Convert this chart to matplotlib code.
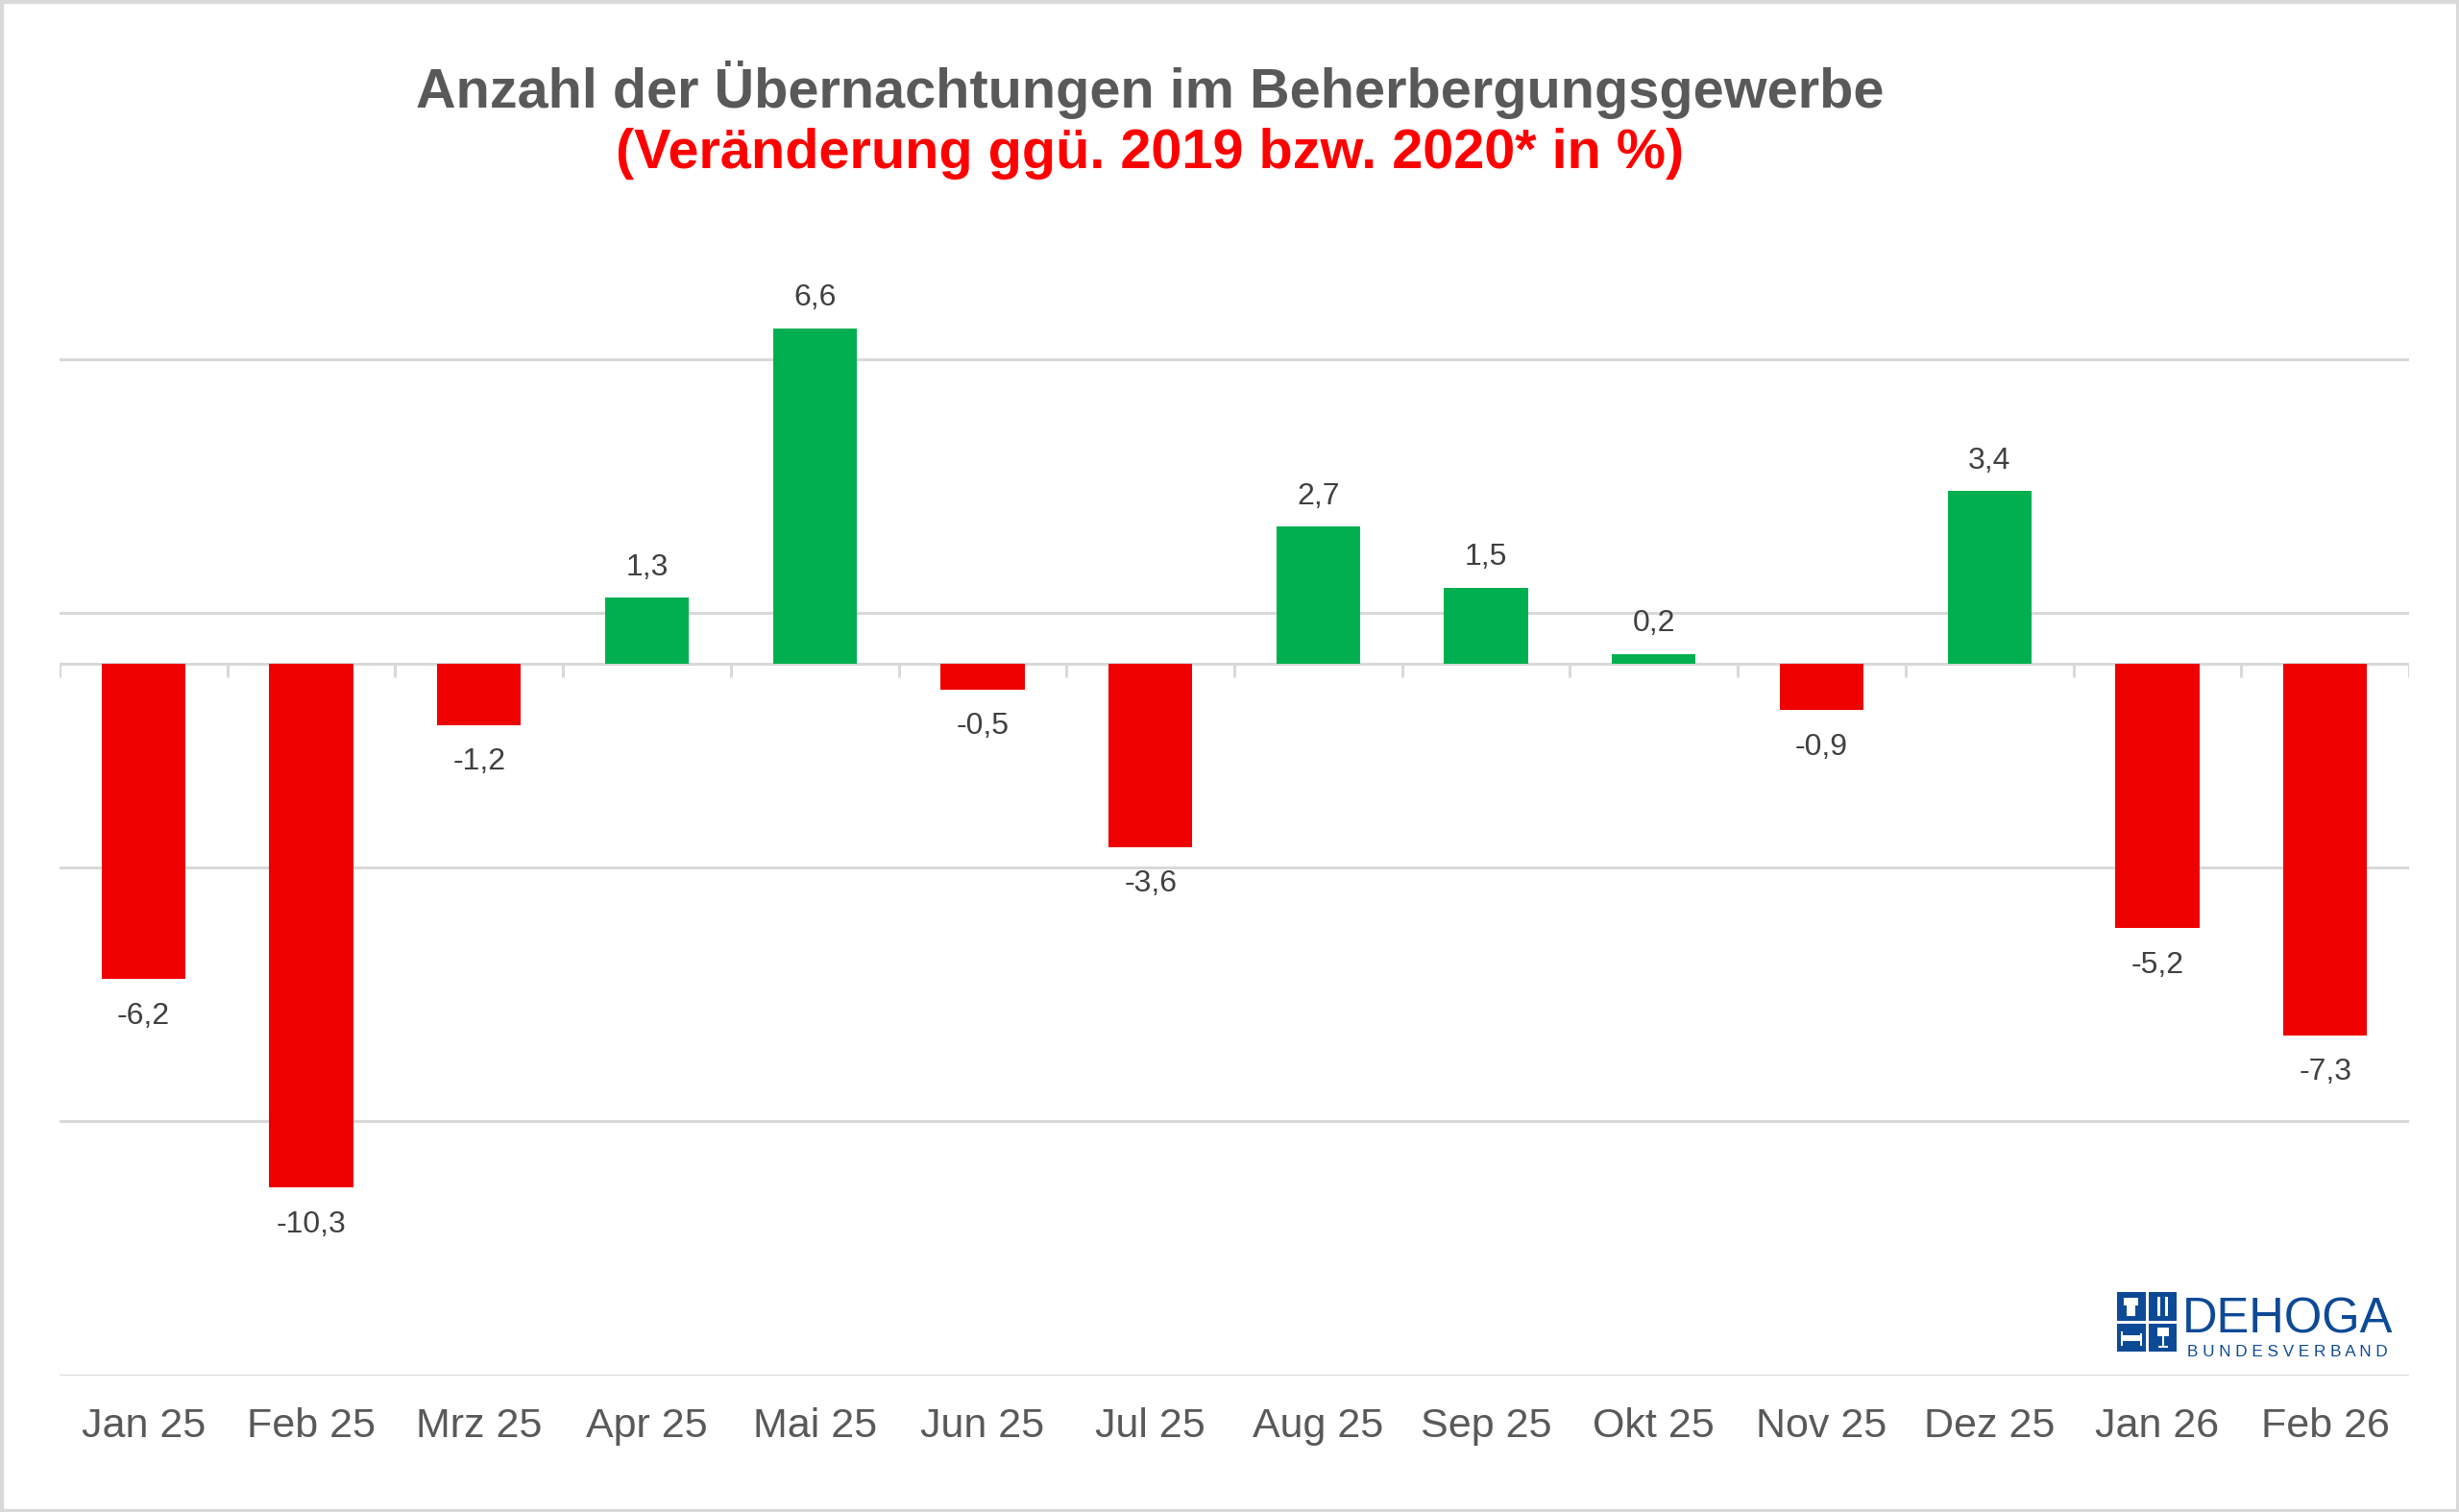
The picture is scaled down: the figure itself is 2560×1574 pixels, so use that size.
import matplotlib
matplotlib.use("Agg")
import matplotlib.pyplot as plt
from matplotlib.patches import Rectangle

plt.rcParams['font.family'] = ['Liberation Sans', 'DejaVu Sans']

categories = ["Jan 25", "Feb 25", "Mrz 25", "Apr 25", "Mai 25", "Jun 25", "Jul 25",
              "Aug 25", "Sep 25", "Okt 25", "Nov 25", "Dez 25", "Jan 26", "Feb 26"]
values = [-6.2, -10.3, -1.2, 1.3, 6.6, -0.5, -3.6, 2.7, 1.5, 0.2, -0.9, 3.4, -5.2, -7.3]
gridlines = [-14, -9, -4, 1, 6]

title = "Anzahl der Übernachtungen im Beherbergungsgewerbe"
subtitle = "(Veränderung ggü. 2019 bzw. 2020* in %)"

RED = "#EE0000"
GREEN = "#00B050"
GRID = "#D9D9D9"

W, H = 2560, 1574
fig = plt.figure(figsize=(W / 100, H / 100), dpi=100)
fig.patch.set_facecolor("white")

ax = fig.add_axes([62 / W, 1 - 1432 / H, (2508 - 62) / W, (1432 - 268) / H])
ax.set_xlim(-0.5, len(categories) - 0.5)
ax.set_ylim(-14, 8)

for g in gridlines:
    ax.axhline(g, color=GRID, lw=2.2, zorder=0)
ax.axhline(0, color=GRID, lw=2.2, zorder=1)
x = list(range(len(categories)))
ax.vlines([i - 0.5 for i in range(len(categories) + 1)], -0.25, 0, color=GRID, lw=2.2, zorder=1)

colors = [GREEN if v >= 0 else RED for v in values]
ax.bar(x, values, width=0.5, color=colors, zorder=2)

for xi, v in zip(x, values):
    lbl = f"{v:.1f}".replace(".", ",")
    if v >= 0:
        ax.annotate(lbl, (xi, v), xytext=(0, 12), textcoords="offset points",
                    ha="center", va="bottom", fontsize=23, color="#404040")
    else:
        ax.annotate(lbl, (xi, v), xytext=(0, -17), textcoords="offset points",
                    ha="center", va="top", fontsize=23, color="#404040")

ax.set_xticks(x)
ax.set_xticklabels(categories, fontsize=31, color="#595959")
ax.tick_params(axis="x", length=0, pad=24)
ax.set_yticks([])
for s in ax.spines.values():
    s.set_visible(False)

# Titles
fig.text(1197 / W, 1 - 93 / H, title, ha="center", va="center", fontsize=41.5,
         fontweight="bold", color="#595959")
fig.text(1197 / W, 1 - 160 / H, subtitle, ha="center", va="center", fontsize=41.5,
         fontweight="bold", color="#FF0000")

# Frame
fig.patches.append(Rectangle((1.5 / W, 1.5 / H), 1 - 3 / W, 1 - 3 / H, transform=fig.transFigure,
                             fill=False, edgecolor="#D9D9D9", lw=3))

# Logo
BLUE = "#0D4A96"
lx0, ly0, s = 2204, 1345, 62
gap = 3
half = (s - gap) / 2
for (cx, cy) in [(0, 0), (1, 0), (0, 1), (1, 1)]:
    px = lx0 + cx * (half + gap)
    py = ly0 + cy * (half + gap)
    fig.patches.append(Rectangle((px / W, 1 - (py + half) / H), half / W, half / H,
                                 transform=fig.transFigure, facecolor=BLUE, edgecolor="none"))

def wrect(x0, y0, w, h):
    fig.patches.append(Rectangle((x0 / W, 1 - (y0 + h) / H), w / W, h / H,
                                 transform=fig.transFigure, facecolor="white", edgecolor="none"))

# chef hat
wrect(lx0 + 7, ly0 + 6, 15, 8)
wrect(lx0 + 10, ly0 + 14, 9, 11)
# fork & knife
wrect(lx0 + half + gap + 9, ly0 + 5, 3, 20)
wrect(lx0 + half + gap + 17, ly0 + 5, 3, 20)
# bed
wrect(lx0 + 5, ly0 + half + gap + 12, 20, 6)
wrect(lx0 + 4, ly0 + half + gap + 8, 2, 15)
wrect(lx0 + 24, ly0 + half + gap + 10, 2, 13)
# glass
wrect(lx0 + half + gap + 9, ly0 + half + gap + 4, 12, 9)
wrect(lx0 + half + gap + 14, ly0 + half + gap + 13, 2, 10)
wrect(lx0 + half + gap + 10, ly0 + half + gap + 23, 10, 2)

fig.text(2272 / W, 1 - 1388 / H, "DEHOGA", ha="left", va="baseline", fontsize=36.5,
         color=BLUE)
fig.text(2277 / W, 1 - 1412 / H, " ".join("BUNDESVERBAND"), ha="left", va="baseline",
         fontsize=12.3, color=BLUE)

fig.savefig("out.png", dpi=100)
